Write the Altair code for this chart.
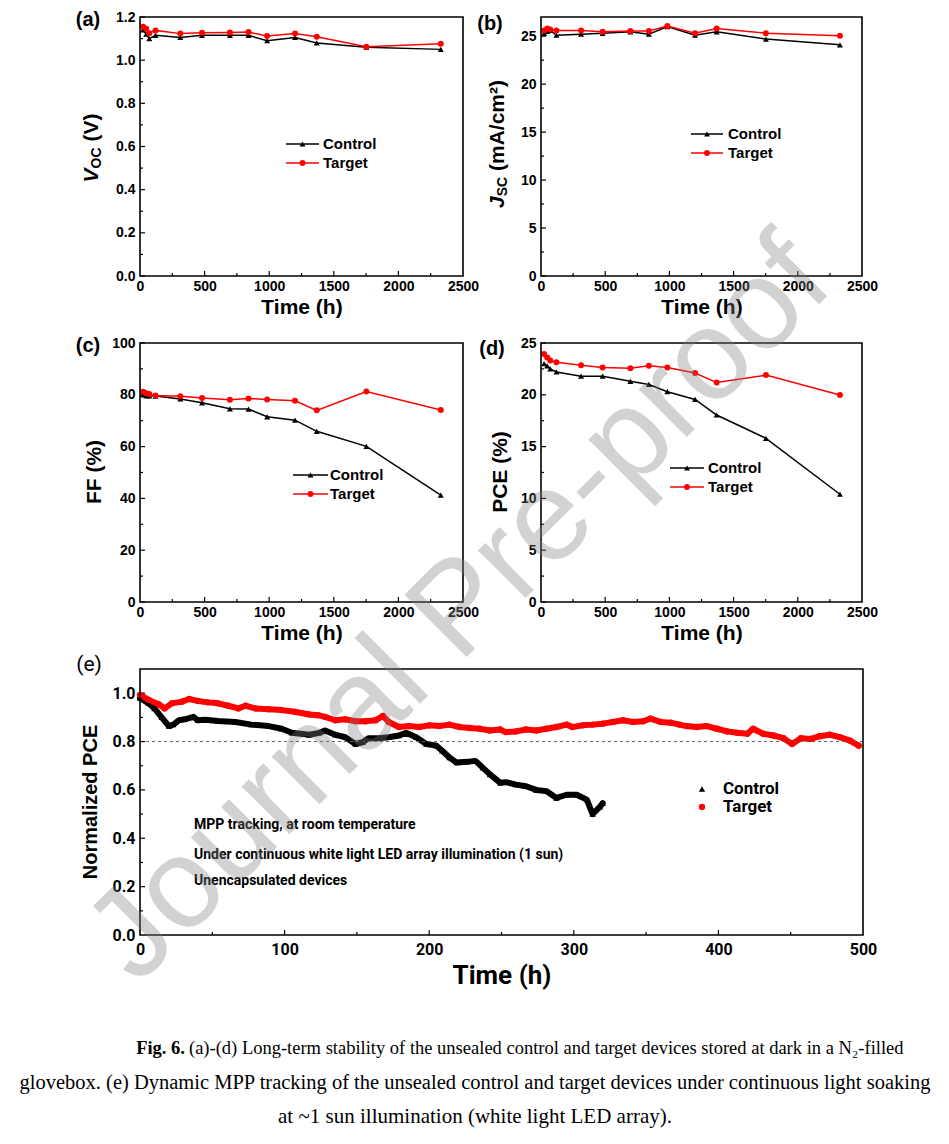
import altair as alt
import pandas as pd

SANS = "'Liberation Sans', Arial, Helvetica, sans-serif"
NARROW = "Roboto, 'Liberation Sans Narrow', 'Arial Narrow', sans-serif"
SERIF = "'Liberation Serif', 'Times New Roman', serif"

SERIES = ["Control", "Target"]
COLORS = ["#000000", "#ff0000"]
SHAPES = ["triangle-up", "circle"]

# ---------------- data ----------------
TIMES = [24, 48, 72, 120, 312, 480, 696, 840, 984, 1200, 1368, 1752, 2328]
VOC_CONTROL = [1.140, 1.120, 1.100, 1.115, 1.105, 1.115, 1.115, 1.115, 1.090, 1.105, 1.080, 1.060, 1.050]
VOC_TARGET = [1.155, 1.145, 1.125, 1.138, 1.123, 1.127, 1.128, 1.130, 1.112, 1.124, 1.108, 1.062, 1.076]
JSC_CONTROL = [25.3, 25.5, 25.6, 25.1, 25.2, 25.3, 25.45, 25.2, 26.0, 25.1, 25.45, 24.7, 24.1]
JSC_TARGET = [25.6, 25.8, 25.7, 25.6, 25.6, 25.45, 25.55, 25.55, 26.05, 25.3, 25.8, 25.3, 25.05]
FF_CONTROL = [80.0, 79.6, 79.6, 79.5, 78.4, 76.9, 74.6, 74.5, 71.5, 70.2, 65.9, 60.1, 41.3]
FF_TARGET = [81.2, 80.6, 80.3, 79.7, 79.4, 78.8, 78.1, 78.6, 78.2, 77.7, 74.0, 81.3, 74.1]
PCE_CONTROL = [23.0, 22.8, 22.5, 22.2, 21.8, 21.8, 21.3, 21.0, 20.3, 19.55, 18.05, 15.8, 10.4]
PCE_TARGET = [23.95, 23.6, 23.3, 23.15, 22.86, 22.64, 22.57, 22.8, 22.64, 22.1, 21.18, 21.9, 19.98]

MPP_CONTROL_T = [0, 6, 10, 15, 20, 23, 27, 31, 37, 40, 45, 54, 66, 77, 89, 98, 105, 117, 124,
                 128, 135, 142, 149, 154, 158, 165, 172, 179, 184, 191, 198, 205, 209, 214, 219,
                 226, 232, 237, 242, 249, 253, 260, 267, 274, 281, 288, 295, 302, 309, 313, 318, 320]
MPP_CONTROL_V = [0.980, 0.958, 0.937, 0.900, 0.864, 0.870, 0.888, 0.892, 0.902, 0.888, 0.890, 0.885,
                 0.881, 0.870, 0.864, 0.853, 0.836, 0.828, 0.836, 0.846, 0.828, 0.818, 0.790, 0.797,
                 0.814, 0.814, 0.818, 0.825, 0.836, 0.818, 0.790, 0.783, 0.762, 0.734, 0.713, 0.716,
                 0.720, 0.692, 0.664, 0.630, 0.632, 0.622, 0.615, 0.600, 0.595, 0.567, 0.580, 0.580,
                 0.560, 0.500, 0.530, 0.545]
MPP_TARGET_T = [0, 6, 13, 17, 22, 29, 34, 40, 47, 54, 61, 68, 73, 80, 89, 98, 107, 117, 123, 128,
                135, 142, 149, 156, 163, 168, 172, 179, 186, 193, 200, 207, 214, 221, 228, 235,
                242, 249, 253, 260, 267, 274, 281, 288, 295, 299, 306, 313, 320, 327, 334, 341,
                348, 353, 360, 367, 373, 378, 385, 392, 399, 406, 413, 420, 424, 431, 438, 445,
                451, 457, 464, 470, 477, 484, 491, 497]
MPP_TARGET_V = [0.993, 0.972, 0.954, 0.937, 0.958, 0.965, 0.976, 0.968, 0.962, 0.958, 0.948, 0.937,
                0.948, 0.937, 0.934, 0.930, 0.923, 0.912, 0.909, 0.902, 0.888, 0.892, 0.884, 0.884,
                0.888, 0.906, 0.881, 0.860, 0.864, 0.860, 0.867, 0.864, 0.870, 0.860, 0.856, 0.853,
                0.846, 0.850, 0.839, 0.842, 0.850, 0.846, 0.853, 0.860, 0.870, 0.860, 0.867, 0.870,
                0.874, 0.881, 0.888, 0.881, 0.884, 0.895, 0.881, 0.878, 0.870, 0.864, 0.860, 0.864,
                0.853, 0.842, 0.836, 0.832, 0.853, 0.832, 0.825, 0.814, 0.790, 0.814, 0.811, 0.822,
                0.828, 0.818, 0.804, 0.783]

ANNOTATIONS = ["MPP tracking, at room temperature",
               "Under continuous white light LED array illumination (1 sun)",
               "Unencapsulated devices"]
CAPTION_BOLD = "Fig. 6."
CAPTION_1 = "(a)-(d) Long-term stability of the unsealed control and target devices stored at dark in a N\u2082-filled"
CAPTION_2 = "glovebox. (e) Dynamic MPP tracking of the unsealed control and target devices under continuous light soaking"
CAPTION_3 = "at ~1 sun illumination (white light LED array)."
WATERMARK = "Journal Pre-proof"

DUMMY = pd.DataFrame({"d": [0]})


def label(text, x, y, size, font=SANS, weight="bold", style="normal", align="center",
          baseline="middle", angle=0, color="black", opacity=1.0):
    return alt.Chart(pd.DataFrame({"t": [text]})).mark_text(
        font=font, fontSize=size, fontWeight=weight, fontStyle=style, align=align,
        baseline=baseline, angle=angle, color=color, opacity=opacity
    ).encode(text="t:N", x=alt.value(x), y=alt.value(y))


W_BOLD = {"V": .667, "O": .778, "C": .722, " ": .278, "(": .333, ")": .333, "J": .556,
          "S": .667, "m": .889, "A": .722, "/": .278, "c": .556, "\u00b2": .333}


def seg_w(s, size):
    return sum(W_BOLD[ch] for ch in s) * size


def vtitle(segs, x, yc):
    # segs: (text, size, italic, dx, gap_before)
    total = sum(seg_w(t, s) + g for t, s, _, _, g in segs)
    y = yc + total / 2
    out = []
    for t, s, it, dx, g in segs:
        y -= g
        out.append(label(t, x + dx, y, s, style="italic" if it else "normal", align="left", angle=270))
        y -= seg_w(t, s)
    return out


def frame(w, h):
    return alt.Chart(DUMMY).mark_rect(filled=False, stroke="black", strokeWidth=1.6).encode(
        x=alt.value(0), x2=alt.value(w), y=alt.value(0), y2=alt.value(h))


def anchor(x, y):
    # white (invisible on the white page) dot that fixes the chart's outer bounds
    return alt.Chart(DUMMY).mark_rule(color="white", strokeWidth=1).encode(
        x=alt.value(x), x2=alt.value(x + 1), y=alt.value(y))


def tick_rules(channel, vals, enc, length, h):
    df = pd.DataFrame({"v": vals})
    base = alt.Chart(df).mark_rule(color="black", strokeWidth=1.2)
    if channel == "x":
        return base.encode(x=enc("v:Q"), y=alt.value(h), y2=alt.value(h - length))
    return base.encode(y=enc("v:Q"), x=alt.value(0), x2=alt.value(length))


def line_legend(x0, x1, tx, y0, dy=19):
    out = []
    for i, (name, col, shp) in enumerate(zip(SERIES, COLORS, SHAPES)):
        y = y0 + i * dy
        out.append(alt.Chart(DUMMY).mark_rule(color=col, strokeWidth=1.5).encode(
            x=alt.value(x0), x2=alt.value(x1), y=alt.value(y)))
        out.append(alt.Chart(DUMMY).mark_point(shape=shp, filled=True, color=col, size=34, opacity=1).encode(
            x=alt.value((x0 + x1) / 2), y=alt.value(y)))
        out.append(label(name, tx, y, 15, align="left"))
    return out


def small_panel(ctrl, targ, ydom, ymaj, ymin, yfmt, w, h, plabel, lab_x, lab_y, title_layers, leg, extra=()):
    xs = alt.Scale(domain=[0, 2500], nice=False)
    ys = alt.Scale(domain=ydom, nice=False, zero=False)
    n = len(TIMES)
    df = pd.DataFrame({"time": TIMES + TIMES, "value": ctrl + targ,
                       "series": ["Control"] * n + ["Target"] * n})
    xaxis = alt.Axis(values=[0, 500, 1000, 1500, 2000, 2500], format="d", title="Time (h)",
                     labelFont=SANS, labelFontSize=14, labelFontWeight="bold", labelPadding=3,
                     labelFlush=False, labelOverlap=False, titleFont=SANS, titleFontSize=21,
                     titleFontWeight="bold", titlePadding=3)
    yaxis = alt.Axis(values=ymaj, format=yfmt, title="", labelFont=SANS, labelFontSize=14,
                     labelFontWeight="bold", labelPadding=5, labelFlush=False, labelOverlap=False)

    def xenc(f):
        return alt.X(f, scale=xs, axis=xaxis)

    def yenc(f):
        return alt.Y(f, scale=ys, axis=yaxis)

    color = alt.Color("series:N", scale=alt.Scale(domain=SERIES, range=COLORS), legend=None)
    shape = alt.Shape("series:N", scale=alt.Scale(domain=SERIES, range=SHAPES), legend=None)
    line = alt.Chart(df).mark_line(strokeWidth=1.5).encode(
        x=xenc("time:Q"), y=yenc("value:Q"), color=color)
    pts = alt.Chart(df).mark_point(filled=True, size=36, opacity=1).encode(
        x=xenc("time:Q"), y=yenc("value:Q"), color=color, shape=shape)
    layers = [
        line,
        tick_rules("x", [500, 1000, 1500, 2000], xenc, 5, h),
        tick_rules("x", [250, 750, 1250, 1750, 2250], xenc, 3, h),
        tick_rules("y", ymaj, yenc, 5, h),
        tick_rules("y", ymin, yenc, 3, h),
        pts,
        frame(w, h),
        label(plabel, lab_x, lab_y, 20),
    ] + title_layers + line_legend(*leg) + list(extra)
    return alt.layer(*layers).properties(width=w, height=h)


H = 259
pa = small_panel(VOC_CONTROL, VOC_TARGET, [0, 1.2], [0, 0.2, 0.4, 0.6, 0.8, 1.0, 1.2],
                 [0.1, 0.3, 0.5, 0.7, 0.9, 1.1], ".1f", 323, H, "(a)", -52, 3,
                 vtitle([("V", 21, True, 0, 0), ("OC", 14, False, 5, 0), ("(V)", 21, False, 0, 5.8)], -48, 131),
                 (146, 179, 183, 127), extra=[anchor(0, -8)])
pb = small_panel(JSC_CONTROL, JSC_TARGET, [0, 27], [0, 5, 10, 15, 20, 25],
                 [2.5, 7.5, 12.5, 17.5, 22.5], "d", 321, H, "(b)", -51, 7,
                 vtitle([("J", 21, True, 0, 0), ("SC", 14, False, 5, 0), ("(mA/cm\u00b2)", 21, False, 0, 5.8)], -43, 127),
                 (150, 182, 187, 117))
pc = small_panel(FF_CONTROL, FF_TARGET, [0, 100], [0, 20, 40, 60, 80, 100],
                 [10, 30, 50, 70, 90], "d", 323, H, "(c)", -52, 3,
                 [label("FF (%)", -45, 129, 21, angle=270)],
                 (153, 188, 190, 132))
pd_ = small_panel(PCE_CONTROL, PCE_TARGET, [0, 25], [0, 5, 10, 15, 20, 25],
                  [2.5, 7.5, 12.5, 17.5, 22.5], "d", 321, H, "(d)", -49, 6,
                  [label("PCE (%)", -40, 129, 21, angle=270)],
                  (129, 163, 167, 125))

# ---------------- panel (e) ----------------
# the grid cell is 323 px wide, the x range is widened to the full 723 px of panel (e)
WE_CELL, WE, HE = 323, 723, 266
xs_e = alt.Scale(domain=[0, 500], range=[0, WE], nice=False)
ys_e = alt.Scale(domain=[0, 1.1], nice=False, zero=False)
df_e = pd.concat([
    pd.DataFrame({"time": MPP_CONTROL_T, "value": MPP_CONTROL_V, "series": "Control"}),
    pd.DataFrame({"time": MPP_TARGET_T, "value": MPP_TARGET_V, "series": "Target"}),
])
color_e = alt.Color("series:N", scale=alt.Scale(domain=SERIES, range=COLORS), legend=None)
shape_e = alt.Shape("series:N", scale=alt.Scale(domain=SERIES, range=SHAPES), legend=None)
xaxis_e = alt.Axis(values=[0, 100, 200, 300, 400, 500], format="d", title="Time (h)", labelFont=NARROW,
                   labelFontSize=16, labelFontWeight="bold", labelPadding=6, labelFlush=False,
                   labelOverlap=False, titleFont=NARROW, titleFontSize=26, titleFontWeight="bold",
                   titlePadding=5)
yaxis_e = alt.Axis(values=[0, 0.2, 0.4, 0.6, 0.8, 1.0], format=".1f", title="", labelFont=NARROW,
                   labelFontSize=16, labelFontWeight="bold", labelPadding=5, labelFlush=False,
                   labelOverlap=False)


def xenc_e(f):
    return alt.X(f, scale=xs_e, axis=xaxis_e)


def yenc_e(f):
    return alt.Y(f, scale=ys_e, axis=yaxis_e)


line_e = alt.Chart(df_e).mark_line(strokeWidth=6, strokeJoin="round", strokeCap="round").encode(
    x=xenc_e("time:Q"), y=yenc_e("value:Q"), color=color_e, detail="series:N")
pts_e = alt.Chart(df_e).mark_point(filled=True, size=40, opacity=1).encode(
    x=xenc_e("time:Q"), y=yenc_e("value:Q"), color=color_e, shape=shape_e)
ref_e = alt.Chart(DUMMY).mark_rule(color="#666666", strokeDash=[3, 3], strokeWidth=1).encode(
    x=alt.value(0), x2=alt.value(WE), y=alt.datum(0.8, scale=ys_e, axis=yaxis_e))

layers_e = [
    line_e,
    ref_e,
    tick_rules("x", [100, 200, 300, 400], xenc_e, 5, HE),
    tick_rules("x", [50, 150, 250, 350, 450], xenc_e, 3, HE),
    tick_rules("y", [0.2, 0.4, 0.6, 0.8, 1.0], yenc_e, 5, HE),
    tick_rules("y", [0.1, 0.3, 0.5, 0.7, 0.9], yenc_e, 3, HE),
    pts_e,
    frame(WE, HE),
    label("(e)", -51, -4, 21, font=NARROW, weight="normal"),
    label("Normalized PCE", -49, 133, 20, angle=270),
]
for i, txt in enumerate(ANNOTATIONS):
    layers_e.append(label(txt, 54, 156 + [0, 30, 56][i], 14, font=NARROW, align="left"))
for i, (name, col, shp) in enumerate(zip(SERIES, COLORS, SHAPES)):
    yy = 120 + 18 * i
    layers_e.append(alt.Chart(DUMMY).mark_point(shape=shp, filled=True, color=col, size=40, opacity=1).encode(
        x=alt.value(562), y=alt.value(yy)))
    layers_e.append(label(name, 583, yy, 17, font=NARROW, align="left"))

# caption (below the figure)
layers_e += [
    label(CAPTION_BOLD, 45, 379, 18.5, font=SERIF, align="right"),
    label(CAPTION_1, 49, 379, 18.5, font=SERIF, weight="normal", align="left"),
    label(CAPTION_2, 335, 414, 20.5, font=SERIF, weight="normal"),
    label(CAPTION_3, 335, 448, 21, font=SERIF, weight="normal"),
]
# watermark
layers_e.append(label(WATERMARK, 320, -59, 128, font=SANS, weight="normal", angle=315,
                      color="#808080", opacity=0.35))
# left anchor
layers_e.append(anchor(-131, 0))

pe = alt.layer(*layers_e).properties(width=WE_CELL, height=HE)

chart = alt.concat(pa, pb, pc, pd_, pe, columns=2, bounds="flush",
                   spacing={"row": 67, "column": 78}).properties(
    padding={"left": 0, "top": 0, "right": 2, "bottom": 2},
    background="white",
).configure_view(stroke="transparent").configure_axis(
    grid=False, ticks=False, domain=False, labelColor="black", titleColor="black"
)

chart.save("out.html", embed_options={"renderer": "svg", "actions": False})
